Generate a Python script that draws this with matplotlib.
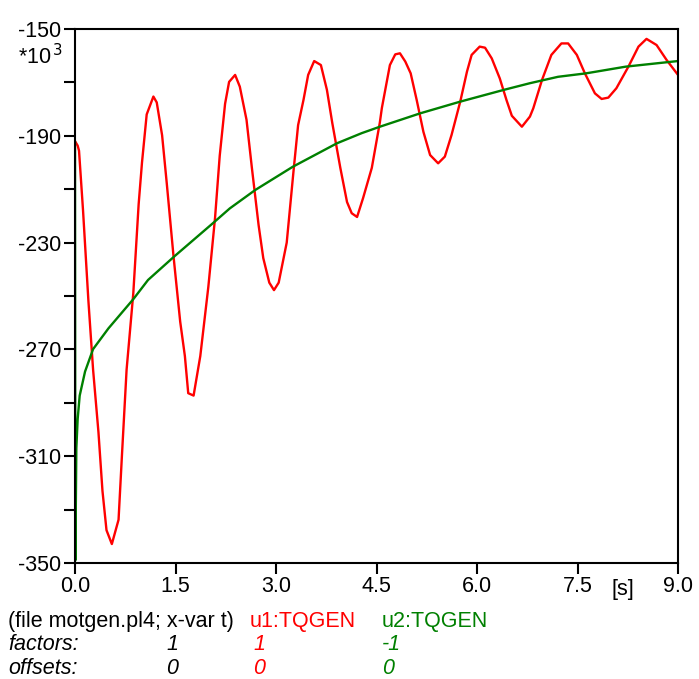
import matplotlib.pyplot as plt
import numpy as np

plt.rcParams['font.family'] = ['Liberation Sans', 'DejaVu Sans']
plt.rcParams['axes.unicode_minus'] = False

# u1:TQGEN (red), values in kNm*1e-3 units (shown as *10^3)
t_u1 = [0.0, 0.04, 0.06, 0.12, 0.20, 0.27, 0.35, 0.41, 0.47, 0.55, 0.65, 0.70, 0.77, 0.87,
        0.95, 1.00, 1.07, 1.17, 1.22, 1.30, 1.37, 1.47, 1.57, 1.64, 1.69, 1.77, 1.87, 1.99,
        2.09, 2.16, 2.24, 2.30, 2.39, 2.46, 2.56, 2.64, 2.74, 2.81, 2.90, 2.97, 3.04, 3.16,
        3.26, 3.33, 3.41, 3.48, 3.57, 3.67, 3.76, 3.84, 3.96, 4.06, 4.13, 4.21, 4.30, 4.43,
        4.55, 4.58, 4.70, 4.78, 4.85, 4.93, 5.01, 5.10, 5.20, 5.30, 5.42, 5.52, 5.62, 5.75,
        5.85, 5.92, 6.04, 6.12, 6.22, 6.34, 6.44, 6.52, 6.67, 6.79, 6.84, 6.97, 7.11, 7.26,
        7.36, 7.49, 7.61, 7.76, 7.86, 7.96, 8.08, 8.26, 8.41, 8.53, 8.68, 8.83, 9.0]
tq_u1 = [-192.0, -193.7, -195.6, -218.0, -251.8, -277.6, -301.0, -323.0, -337.7, -342.9,
         -333.8, -310.0, -277.6, -249.0, -215.6, -200.0, -182.0, -175.3, -177.5, -189.8,
         -207.9, -235.0, -259.6, -272.5, -286.4, -287.3, -272.5, -246.6, -220.8, -197.5,
         -178.0, -169.8, -167.2, -171.6, -184.0, -202.0, -223.4, -235.8, -245.0, -247.8,
         -245.0, -230.0, -203.6, -186.0, -176.6, -167.2, -162.0, -163.5, -172.8, -185.2,
         -202.0, -214.8, -219.0, -220.4, -213.3, -202.0, -185.0, -179.6, -163.5, -159.5,
         -159.1, -162.2, -166.6, -176.6, -188.5, -197.2, -200.3, -197.8, -189.7, -177.2,
         -166.0, -159.7, -156.6, -157.0, -161.0, -168.5, -176.6, -182.5, -186.6, -182.8,
         -179.7, -169.1, -159.7, -155.4, -155.4, -159.7, -166.6, -174.1, -176.2, -175.7,
         -172.2, -164.1, -156.6, -153.7, -156.0, -161.6, -167.2]

# u2:TQGEN (green), factor -1
t_u2 = [0.0, 0.005, 0.02, 0.04, 0.07, 0.15, 0.27, 0.50, 0.87, 1.09, 1.49, 2.06, 2.31, 2.69,
        3.25, 3.91, 4.28, 4.55, 5.15, 5.75, 6.40, 6.79, 7.21, 7.63, 8.22, 9.0]
tq_u2 = [-192.5, -349.0, -307.0, -296.0, -287.3, -278.3, -269.9, -262.1, -251.2, -244.0,
         -235.0, -222.7, -217.2, -210.3, -201.6, -192.8, -189.0, -186.6, -181.6, -177.2,
         -172.8, -170.3, -167.9, -166.6, -164.1, -162.0]

x_ticks = [0.0, 1.5, 3.0, 4.5, 6.0, 7.5, 9.0]
y_major = [-350, -310, -270, -230, -190, -150]
y_minor = [-330, -290, -250, -210, -170]

W, H = 699, 679
fig = plt.figure(figsize=(W / 100, H / 100), dpi=100)
ax = fig.add_axes([75 / W, 1 - 563 / H, 603 / W, 534 / H])

ax.plot(t_u1, tq_u1, color='#ff0000', lw=1.7)
ax.plot(t_u2, tq_u2, color='#008000', lw=1.7)

ax.set_xlim(0, 9)
ax.set_ylim(-350, -150)
ax.set_xticks(x_ticks)
ax.set_xticklabels([f'{v:.1f}' for v in x_ticks])
ax.set_yticks(y_major)
ax.set_yticks(y_minor, minor=True)
ax.tick_params(axis='both', which='both', direction='out', length=8, width=1.5,
               labelsize=15.5, colors='black')
ax.tick_params(axis='y', which='major', pad=2)
ax.tick_params(axis='x', which='major', pad=1)
for s in ax.spines.values():
    s.set_linewidth(1.5)

def px(x, y):
    return x / W, 1 - y / H

fs = 15.5
fig.text(*px(18, 57), '*10$^{\\,3}$', fontsize=fs, va='center', ha='left')
fig.text(*px(623, 590), '[s]', fontsize=fs, va='center', ha='center')

rows = [621, 645, 668]
fig.text(*px(8, rows[0]), '(file motgen.pl4; x-var t)', fontsize=fs, va='center')
fig.text(*px(250, rows[0]), 'u1:TQGEN', fontsize=fs, va='center', color='#ff0000')
fig.text(*px(382, rows[0]), 'u2:TQGEN', fontsize=fs, va='center', color='#008000')
fig.text(*px(8, rows[1]), 'factors:', fontsize=fs, va='center', style='italic')
fig.text(*px(166, rows[1]), '1', fontsize=fs, va='center', style='italic')
fig.text(*px(253, rows[1]), '1', fontsize=fs, va='center', style='italic', color='#ff0000')
fig.text(*px(382, rows[1]), '-1', fontsize=fs, va='center', style='italic', color='#008000')
fig.text(*px(8, rows[2]), 'offsets:', fontsize=fs, va='center', style='italic')
fig.text(*px(166, rows[2]), '0', fontsize=fs, va='center', style='italic')
fig.text(*px(253, rows[2]), '0', fontsize=fs, va='center', style='italic', color='#ff0000')
fig.text(*px(382, rows[2]), '0', fontsize=fs, va='center', style='italic', color='#008000')

fig.savefig('out.png', dpi=100)
plt.close(fig)
